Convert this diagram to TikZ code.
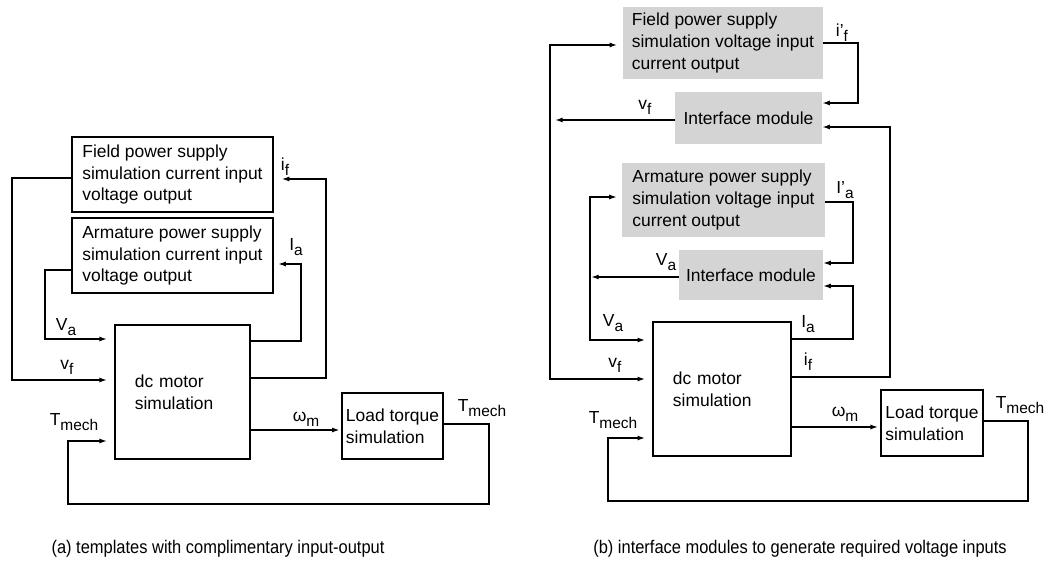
\documentclass[tikz,border=0pt]{standalone}
\usepackage{fontspec}
\setmainfont{Liberation Sans}
\newfontfamily\capfont[FakeStretch=0.9]{Liberation Sans}
\usepackage{tikz}
\usetikzlibrary{calc, arrows.meta}

% signal name with a lowered index
\newcommand{\sig}[2]{#1\raisebox{-3.5pt}{\fontsize{11}{11}\selectfont #2}}

\tikzset{
  >={Latex[length=5.5pt,width=3.6pt]},
  block/.style={draw, line width=1.3pt, inner sep=0pt, outer sep=0pt, align=left,
    font=\fontsize{12.4}{15.4}\selectfont},
  greybox/.style={fill=black!17, inner sep=0pt, outer sep=0pt, align=left,
    font=\fontsize{12.4}{15.4}\selectfont},
  wire/.style={line width=1.1pt},
  lbl/.style={inner sep=0pt, font=\fontsize{12.4}{12.4}\selectfont},
}

\begin{document}
\begin{tikzpicture}[x=0.025cm, y=-0.025cm]
  \useasboundingbox (0,0) rectangle (1048,563);

  % (a) templates
  \node[block, minimum width=5.03cm, minimum height=1.88cm] (fieldA) at (172.5,174.5)
    {Field power supply\\simulation current input\\voltage output};
  \node[block, minimum width=5.03cm, minimum height=1.88cm] (armA) at (172.5,255.5)
    {Armature power supply\\simulation current input\\voltage output};
  \node[block, minimum width=3.38cm, minimum height=3.35cm, text width=2.38cm, inner xsep=0.5cm] (motorA) at (182.5,392)
    {dc motor\\simulation};
  \node[block, minimum width=2.53cm, minimum height=1.65cm] (loadA) at (392.5,426)
    {Load torque\\simulation};

  \draw[wire, ->, shorten >=5.5pt] ($(fieldA.west)+(0,3.5)$) -- ++(-60,0) |- ($(motorA.west)+(0,-12)$);
  \draw[wire, ->, shorten >=5.5pt] ($(armA.west)+(0,14.5)$) -- ++(-27,0) |- ($(motorA.west)+(0,-53)$);
  \draw[wire, ->, shorten >=3.5pt] ($(motorA.east)+(0,-51)$) -- ++(51,0) |- ($(armA.east)+(0,8.5)$);
  \draw[wire, ->, shorten >=6pt] ($(motorA.east)+(0,-14)$) -- ++(76,0) |- ($(fieldA.east)+(0,4.5)$);
  \draw[wire, ->, shorten >=1.5pt] ($(motorA.east)+(0,38)$) -- ($(loadA.west)+(0,4)$);
  \draw[wire, ->, shorten >=5.5pt] ($(loadA.east)+(0,-2)$) -- ++(46,0) -- ++(0,80)
    -| ($(motorA.west)+(-47,49)$) -- ($(motorA.west)+(0,49)$);

  \node[lbl] (vaA) at (66,327) {\sig{V}{a}};
  \node[lbl] (vfA) at (67,367) {\sig{v}{f}};
  \node[lbl] (iaA) at (296,247) {\sig{I}{a}};
  \node[lbl] (ifA) at (285,167) {\sig{i}{f}};
  \node[lbl] (wmA) at (306,419) {\sig{ω}{m}};
  \node[lbl] (tlA) at (74,422) {\sig{T}{mech}};
  \node[lbl] (trA) at (482,408) {\sig{T}{mech}};

  % (b) interface modules
  \node[greybox, minimum width=5cm, minimum height=1.8cm] (fieldB) at (723,43)
    {Field power supply\\simulation voltage input\\current output};
  \node[greybox, minimum width=3.68cm, minimum height=1.3cm] (ifaceF) at (748.5,118)
    {Interface module};
  \node[greybox, minimum width=5.08cm, minimum height=1.85cm] (armB) at (723.5,200)
    {Armature power supply\\simulation voltage input\\current output};
  \node[greybox, minimum width=3.6cm, minimum height=1.25cm] (ifaceA) at (751,275)
    {Interface module};
  \node[block, minimum width=3.45cm, minimum height=3.35cm, text width=2.45cm, inner xsep=0.5cm] (motorB) at (722,389)
    {dc motor\\simulation};
  \node[block, minimum width=2.55cm, minimum height=1.65cm] (loadB) at (932,423)
    {Load torque\\simulation};

  \coordinate (vfB) at ($(ifaceF.west)+(-120,2)$);
  \coordinate (vaB) at ($(ifaceA.west)+(-88,2)$);
  \draw[wire, <->, shorten <=4pt, shorten >=5.5pt] ($(fieldB.west)+(0,2)$) -- ++(-73,0) |- ($(motorB.west)+(0,-10)$);
  \draw[wire, <->, shorten <=3.5pt, shorten >=5.5pt] ($(armB.west)+(0,-3)$) -- ++(-32,0) |- ($(motorB.west)+(0,-49)$);
  \draw[wire, ->] ($(ifaceF.west)+(0,2)$) -- (vfB);
  \draw[wire, ->] ($(ifaceA.west)+(0,2)$) -- (vaB);
  \draw[wire, ->] (fieldB.east) -- ++(35,0) |- ($(ifaceF.east)+(0,-15)$);
  \draw[wire, ->] ($(motorB.east)+(0,-12)$) -- ++(99,0) |- ($(ifaceF.east)+(0,9)$);
  \draw[wire, ->] ($(armB.east)+(0,2)$) -- ++(28,0) |- ($(ifaceA.east)+(0,-12)$);
  \draw[wire, ->] ($(motorB.east)+(0,-50)$) -- ++(62,0) |- ($(ifaceA.east)+(0,11)$);
  \draw[wire, ->, shorten >=2pt] ($(motorB.east)+(0,38)$) -- ($(loadB.west)+(0,4)$);
  \draw[wire, ->, shorten >=5.5pt] ($(loadB.east)+(0,-2)$) -- ++(45,0) -- ++(0,80)
    -| ($(motorB.west)+(-45,49)$) -- ($(motorB.west)+(0,49)$);

  \node[lbl] (ifpB) at (842,33) {\sig{i'}{f}};
  \node[lbl] (vfoB) at (645,107) {\sig{v}{f}};
  \node[lbl] (iapB) at (845,190) {\sig{I'}{a}};
  \node[lbl] (vaoB) at (666,262) {\sig{V}{a}};
  \node[lbl] (vaB) at (613,323) {\sig{V}{a}};
  \node[lbl] (vfiB) at (615,365) {\sig{v}{f}};
  \node[lbl] (iaB) at (808,324) {\sig{I}{a}};
  \node[lbl] (ifB) at (808,362) {\sig{i}{f}};
  \node[lbl] (wmB) at (845,414) {\sig{ω}{m}};
  \node[lbl] (tlB) at (613,420) {\sig{T}{mech}};
  \node[lbl] (trB) at (1020,405) {\sig{T}{mech}};

  % captions
  \node[font=\capfont\fontsize{13}{13}\selectfont] (capA) at (218,549)
    {(a) templates with complimentary input-output};
  \node[font=\capfont\fontsize{13}{13}\selectfont] (capB) at (800,549)
    {(b) interface modules to generate required voltage inputs};
\end{tikzpicture}
\end{document}
